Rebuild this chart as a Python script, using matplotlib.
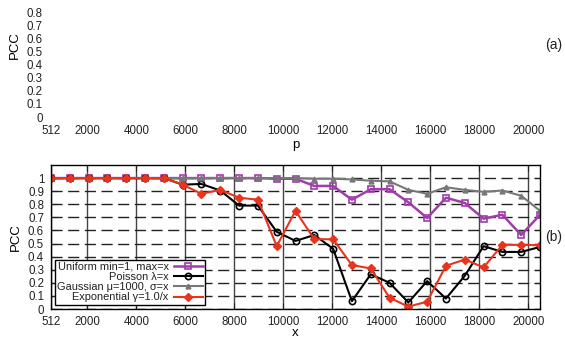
import matplotlib
matplotlib.use('Agg')
import matplotlib.pyplot as plt

plt.rcParams['font.family'] = ['Liberation Sans', 'DejaVu Sans']
plt.rcParams['text.color'] = '#222222'
plt.rcParams['xtick.color'] = '#222222'
plt.rcParams['ytick.color'] = '#222222'

# sample sizes (x axis)
xs = [512, 1280, 2048, 2816, 3584, 4352, 5120, 5888, 6656, 7424, 8192,
      8960, 9728, 10496, 11264, 12032, 12800, 13568, 14336, 15104, 15872,
      16640, 17408, 18176, 18944, 19712, 20480]

uniform = [1.0, 1.0, 1.0, 1.0, 1.0, 1.0, 1.0, 1.0, 1.0, 1.0, 1.0, 1.0,
           0.995, 0.995, 0.94, 0.94, 0.835, 0.915, 0.915, 0.815, 0.695,
           0.85, 0.81, 0.69, 0.72, 0.565, 0.72]
poisson = [1.0, 1.0, 1.0, 1.0, 1.0, 1.0, 1.0, 0.95, 0.955, 0.905, 0.79,
           0.79, 0.59, 0.52, 0.565, 0.46, 0.06, 0.265, 0.2, 0.05, 0.213,
           0.08, 0.254, 0.48, 0.436, 0.436, 0.474]
gaussian = [1.0, 1.0, 1.0, 1.0, 1.0, 1.0, 1.0, 1.0, 1.0, 1.0, 1.0, 1.0,
            1.0, 1.0, 0.995, 0.995, 0.99, 0.98, 0.975, 0.91, 0.88, 0.93,
            0.91, 0.895, 0.905, 0.865, 0.75]
expon = [1.0, 1.0, 1.0, 1.0, 1.0, 1.0, 1.0, 0.95, 0.88, 0.91, 0.85, 0.835,
         0.48, 0.75, 0.533, 0.533, 0.335, 0.31, 0.086, 0.018, 0.056, 0.33,
         0.378, 0.318, 0.49, 0.49, 0.487]

xticks = [512, 2000, 4000, 6000, 8000, 10000, 12000, 14000, 16000, 18000, 20000]
yticks = [0, 0.1, 0.2, 0.3, 0.4, 0.5, 0.6, 0.7, 0.8, 0.9, 1.0]
ylabels = ['0', '0.1', '0.2', '0.3', '0.4', '0.5', '0.6', '0.7', '0.8', '0.9', '1']

labels = ['Uniform min=1, max=x', 'Poisson \u03bb=x',
          'Gaussian \u03bc=1000, \u03c3=x', 'Exponential \u03b3=1.0/x']

W, H = 565, 339
fig = plt.figure(figsize=(W / 100, H / 100), dpi=100)
left, width = 51 / W, 489 / W
axh = 144 / H

# panel (a): only its lower part is left in the picture
ax1 = fig.add_axes([left, (H - 117) / H, width, axh])
ax1.set_xlim(512, 20480)
ax1.set_ylim(0, 1.1)
for s in ax1.spines.values():
    s.set_visible(False)
ax1.set_xticks(xticks)
ax1.set_yticks(yticks[:9])
ax1.set_yticklabels(ylabels[:9])
ax1.tick_params(length=0, labelsize=8.3, pad=6)
ax1.set_xlabel('p', fontsize=9.5, labelpad=1)
ax1.set_ylabel('PCC', fontsize=9.5, labelpad=4)
ax1.text(1.01, 0.5, '(a)', transform=ax1.transAxes, fontsize=10,
         va='center', ha='left')

# panel (b)
ax2 = fig.add_axes([left, (H - 309) / H, width, axh])
ax2.set_xlim(512, 20480)
ax2.set_ylim(0, 1.1)
ax2.set_xticks(xticks)
ax2.set_yticks(yticks)
ax2.set_yticklabels(ylabels)
ax2.tick_params(direction='in', length=4, top=True, right=True,
                labelsize=8.3, pad=5)
for s in ax2.spines.values():
    s.set_linewidth(1.0)
    s.set_color('black')
ax2.xaxis.grid(True, color='#444444', lw=1.0, ls='-')
ax2.yaxis.grid(True, color='#222222', lw=1.0, ls=(0, (8, 4)))
ax2.set_axisbelow(True)

ax2.plot(xs, uniform, '-', color='#a03cac', lw=1.8, marker='s', ms=5,
         mfc='none', mec='#a03cac', mew=1.2, label=labels[0])
ax2.plot(xs, poisson, '-', color='black', lw=1.5, marker='o', ms=4.5,
         mfc='none', mec='black', mew=1.2, label=labels[1])
ax2.plot(xs, gaussian, '-', color='#777777', lw=1.5, marker='^', ms=3.5,
         mfc='#777777', mec='#777777', label=labels[2])
ax2.plot(xs, expon, '-', color='#e8341c', lw=1.5, marker='D', ms=4,
         mfc='#e8341c', mec='#e8341c', label=labels[3])

leg = ax2.legend(loc='lower left', bbox_to_anchor=(0.008, 0.03),
                 markerfirst=False, fontsize=7.9, frameon=True,
                 fancybox=False, framealpha=1, edgecolor='black',
                 borderpad=0.2, labelspacing=0.02, handlelength=2.6,
                 handletextpad=0.5, borderaxespad=0)
leg.get_frame().set_linewidth(1.0)

ax2.set_xlabel('x', fontsize=9.5, labelpad=-1)
ax2.set_ylabel('PCC', fontsize=9.5, labelpad=4)
ax2.text(1.01, 0.5, '(b)', transform=ax2.transAxes, fontsize=10,
         va='center', ha='left')

fig.savefig('out.png', dpi=100)
